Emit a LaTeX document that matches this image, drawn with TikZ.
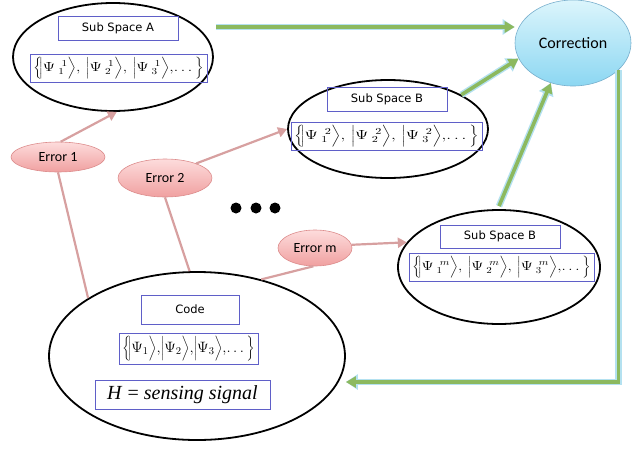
\documentclass[tikz,border=0pt]{standalone}
\usepackage{fontspec}
\usepackage{graphicx}
\usetikzlibrary{shapes.geometric,arrows.meta}
\setmainfont{Liberation Serif}
\newfontfamily\labelfont{DejaVu Sans}
\newfontfamily\calfont{Carlito}

\definecolor{boxblue}{RGB}{95,95,200}
\definecolor{errline}{RGB}{215,160,160}
\definecolor{errtop}{RGB}{253,220,220}
\definecolor{errbot}{RGB}{240,160,160}
\definecolor{errdraw}{RGB}{220,140,140}
\definecolor{cortop}{RGB}{220,245,252}
\definecolor{corbot}{RGB}{140,215,242}
\definecolor{cordraw}{RGB}{120,175,205}
\definecolor{flowgreen}{RGB}{140,185,95}
\definecolor{flowglow}{RGB}{180,225,240}

% kets and ket rows, squeezed into a box of given width and height
\newcommand\ket[2]{\bigg|\Psi_{\;#1}^{\;\;#2}\bigg\rangle}
\newcommand\ketrow[3]{\resizebox*{#1}{#2}{\fontsize{14}{16}\selectfont
  $\bigg\{\!\ket{1}{#3},\,\ket{2}{#3},\,\ket{3}{#3},\!\ldots\bigg\}$}}
\newcommand\plainket[1]{\bigg|\Psi_{#1}\bigg\rangle}

\tikzset{
  space/.style={ellipse, draw=black, line width=1.8pt, inner sep=0pt},
  labelbox/.style={draw=boxblue, line width=0.9pt, inner sep=0pt, font=\labelfont\fontsize{11.5}{13}\selectfont},
  ketbox/.style={draw=boxblue, line width=0.9pt, inner sep=0pt},
  errnode/.style={ellipse, draw=errdraw, line width=0.6pt, top color=errtop, bottom color=errbot, inner sep=0pt, font=\calfont\fontsize{14}{16}\selectfont},
  cornode/.style={ellipse, draw=cordraw, line width=0.6pt, top color=cortop, bottom color=corbot, inner sep=0pt, font=\calfont\fontsize{16}{18}\selectfont},
  errlink/.style={draw=errline, line width=2.2pt},
  errarrow/.style={errlink, -{Triangle[length=9pt,width=10pt]}},
  flow/.style={draw=flowgreen, line width=3.6pt, -{Triangle[length=10pt,width=11pt]},
    preaction={draw=flowglow, line width=6.5pt, -{Triangle[length=12pt,width=15pt]}}},
  dot/.style={circle, fill=black, inner sep=0pt, minimum size=11pt}
}

\begin{document}
\begin{tikzpicture}[x=1pt,y=-1pt]
\useasboundingbox (0,0) rectangle (641,448);

% subspaces
\node[space, minimum width=200pt, minimum height=108pt] (A) at (113,57) {};
\node[labelbox, minimum width=120pt, minimum height=24pt] (Alab) at (118,28) {Sub Space A};
\node[ketbox, minimum width=177pt, minimum height=28pt] (Aket) at (118.5,68) {\ketrow{170pt}{22pt}{1}};

\node[space, minimum width=200pt, minimum height=98pt] (B) at (388,129) {};
\node[labelbox, minimum width=120pt, minimum height=24pt] (Blab) at (387,99) {Sub Space B};
\node[ketbox, minimum width=191pt, minimum height=28pt] (Bket) at (386.5,136) {\ketrow{184pt}{22pt}{2}};

\node[space, minimum width=202pt, minimum height=114pt] (Bm) at (499,267) {};
\node[labelbox, minimum width=120pt, minimum height=23pt] (Bmlab) at (500,236.5) {Sub Space B};
\node[ketbox, minimum width=185pt, minimum height=28pt] (Bmket) at (501.5,267) {\ketrow{178pt}{22pt}{m}};

% code space
\node[space, minimum width=296pt, minimum height=168pt] (K) at (197,356) {};
\node[labelbox, minimum width=98pt, minimum height=29pt] (Klab) at (190,309.5) {Code};
\node[ketbox, minimum width=139pt, minimum height=31pt] (Kket) at (188.5,348.5)
  {\resizebox*{132pt}{25pt}{\fontsize{14}{16}\selectfont
   $\bigg\{\!\plainket{1},\!\plainket{2},\!\plainket{3},\!\ldots\bigg\}$}};
\node[ketbox, minimum width=175pt, minimum height=29pt, font=\fontsize{20}{22}\selectfont] (H) at (182.5,394.5)
  {\textit{H} = \textit{sensing signal}};

% correction and errors
\node[cornode, minimum width=116pt, minimum height=86pt] (C) at (573,43) {Correction};
\node[errnode, minimum width=94pt, minimum height=30pt] (E1) at (58,157) {Error 1};
\node[errnode, minimum width=94pt, minimum height=38pt] (E2) at (165,178) {Error 2};
\node[errnode, minimum width=74pt, minimum height=36pt] (Em) at (315,248) {Error m};

% ellipsis between the error branches
\node[dot] (d1) at (236,208) {};
\node[dot] (d2) at (256,208) {};
\node[dot] (d3) at (275,208) {};

% error links
\draw[errarrow] (E1.80) -- (A.-86);
\draw[errlink] (E1.south) -- (K.152);
\draw[errarrow] (E2.25) -- (B.180);
\draw[errlink] (E2.south) -- (K.95);
\draw[errarrow] (Em.5) -- (Bm.165);
\draw[errlink] (Em.265) -- (K.50);

% flows into and out of the correction
\coordinate (aout) at (216,27);
\coordinate (ret) at (0,382);
\draw[flow] (aout) -- (aout -| C.west);
\draw[flow] (B.25) -- (C.196);
\draw[flow] ([yshift=3pt]Bm.north) -- (C.241);
\draw[flow] (C.-31) |- (K.east |- ret);
\end{tikzpicture}
\end{document}
